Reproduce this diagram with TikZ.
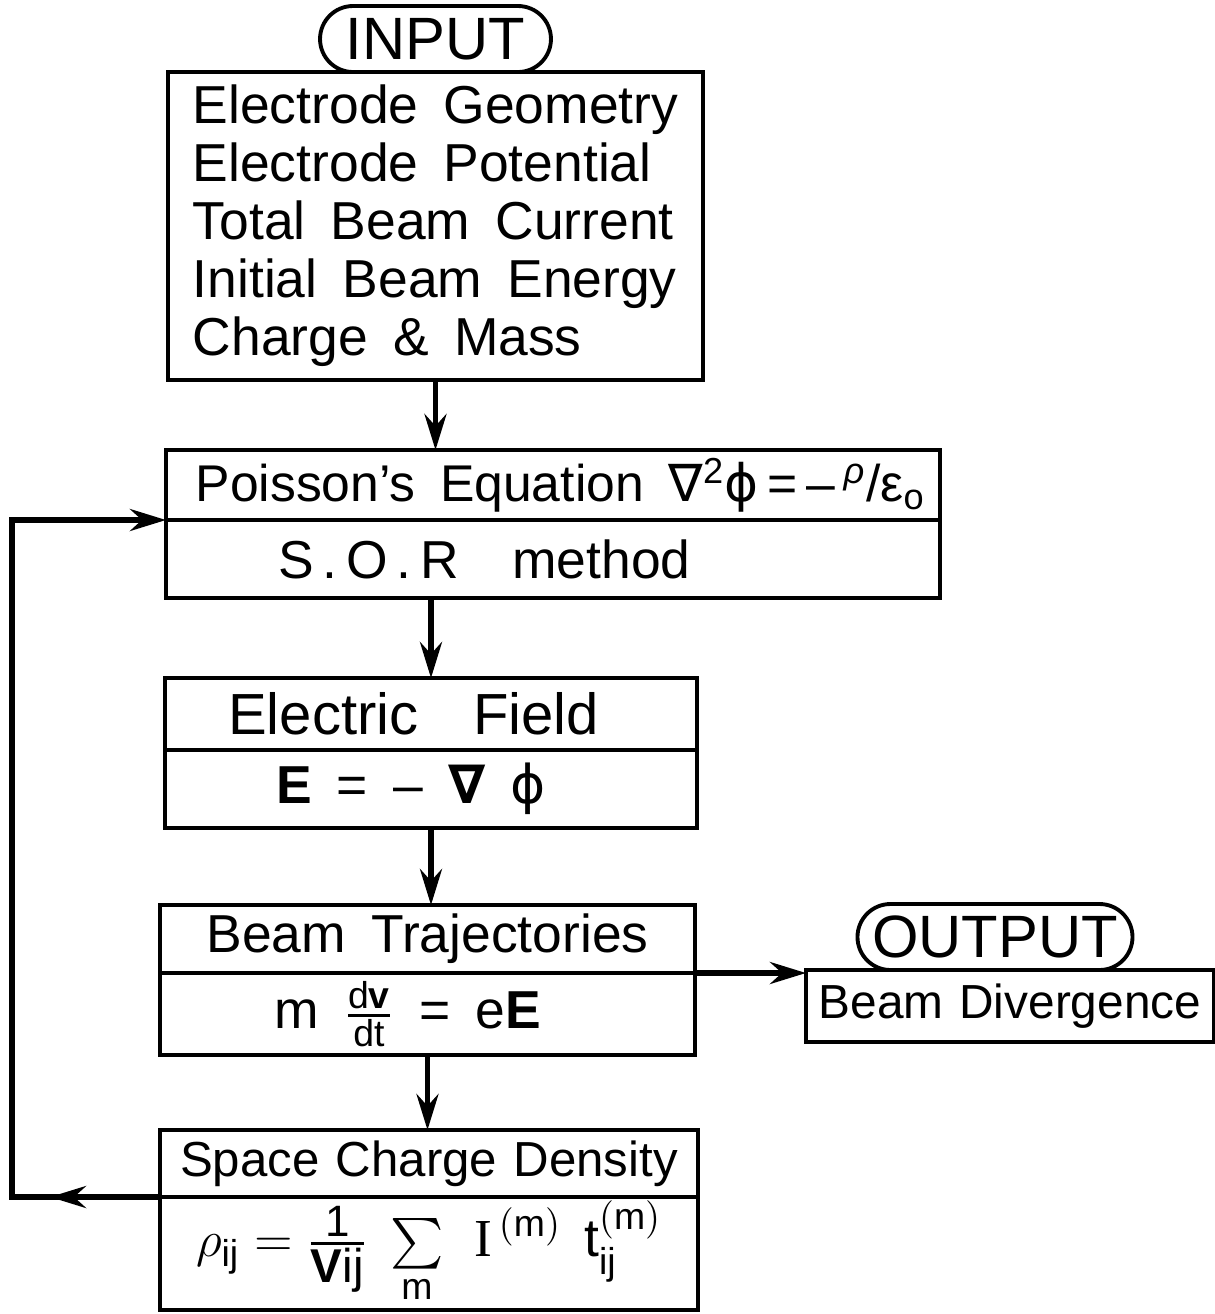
\documentclass[tikz,border=0pt]{standalone}
\usepackage{amsmath}
\usepackage{fontspec}
\setmainfont{Liberation Sans}[WordSpace=1.7]
\newfontfamily\gsym{DejaVu Sans}
\newfontfamily\serifI{Liberation Serif}
\usepackage{tikz}
\usetikzlibrary{
  arrows.meta, positioning, calc, shapes.misc, decorations.markings
}

\begin{document}
\begin{tikzpicture}[x=0.1mm, y=-0.1mm, line width=1.1pt,
  font=\fontsize{15.2}{16.5}\selectfont,
  box/.style={draw, rectangle, outer sep=0pt, inner sep=2pt, align=center},
  pill/.style={draw, rounded rectangle, outer sep=0pt, inner sep=2pt,
    minimum height=6.6mm, font=\fontsize{17}{18}\selectfont},
  flow/.style={line width=1.5pt, -{Stealth[length=3.6mm, width=2.2mm, inset=1.2mm]}},
  fb/.style={line width=1.5pt, -{Stealth[length=3.6mm, width=2.2mm, inset=1.2mm]},
    decoration={markings, mark=at position 11mm with
      {\arrow{Stealth[length=3.6mm, width=2.2mm, inset=1.2mm]}}},
    postaction={decorate}},
]
\useasboundingbox (0,0) rectangle (1215,1314);

% input
\node[box, minimum width=53.5mm, minimum height=30.8mm, align=left] (inp) at (435.5,226)
  {Electrode Geometry\\ Electrode Potential\\ Total Beam Current\\
   Initial Beam Energy\\ Charge \& Mass};
\node[pill, minimum width=24.5mm, above=0pt of inp] (inpill) {INPUT};

% poisson solver
\node[box, minimum width=77.4mm, minimum height=7mm,
  font=\fontsize{14.7}{16}\selectfont] (poiss) at (553,485)
  {\hspace*{1.5mm}Poisson's Equation {\gsym ∇}\textsuperscript{2}{\gsym ϕ}\,=\,–\,\textsuperscript{\itshape ρ}/ε\textsubscript{o}};
\node[box, below=0pt of poiss, minimum height=7.8mm, text width=76mm, align=left] (sor)
  {\hspace*{10.5mm}S\,.\,O\,.\,R\quad method};

% field
\node[box, minimum width=53.2mm, minimum height=7.2mm,
  font=\fontsize{16.5}{18}\selectfont] (fld) at (431,714) {\hspace*{-3.5mm}Electric\ \ Field};
\node[box, below=0pt of fld, minimum width=53.2mm, minimum height=7.8mm] (fldm)
  {\hspace*{-4mm}\textbf{E} = – {\gsym\bfseries ∇} {\gsym ϕ}};

% trajectories
\node[box, minimum width=53.5mm, minimum height=6.8mm] (traj) at (427.5,939) {Beam Trajectories};
\node[box, below=0pt of traj, minimum width=53.5mm, minimum height=8.2mm] (trajm)
  {\hspace*{-4mm}m $\genfrac{}{}{0.8pt}{}{\text{d\textbf{v}}}{\text{dt}}$ = e\textbf{E}};

% space charge
\node[box, minimum width=53.8mm, minimum height=6.7mm,
  font=\fontsize{14}{16}\selectfont, text width=52mm] (sc) at (429,1163.5) {Space Charge Density};
\node[box, below=0pt of sc, minimum width=53.8mm, minimum height=11.3mm,
  text height=4.2mm, text depth=3.6mm] (scm)
  {$\rho_{\text{ij}} = \genfrac{}{}{0.8pt}{1}{\text{\fontsize{12.5}{13}\selectfont 1}}%
     {\text{\fontsize{13.5}{14}\selectfont\textbf{V}ij}}\;
   \sum\limits_{\text{m}}\;\, \text{\serifI I}^{\,(\text{m})}\;\, \text{t}_{\text{ij}}^{(\text{m})}$};

% output
\node[box, minimum width=40.4mm, minimum height=7.2mm, text width=39.4mm,
  font=\fontsize{13.6}{16}\selectfont] (div) at (1010,1006) {Beam Divergence};
\node[pill, minimum width=27mm, above=0pt of div, xshift=-1.5mm] (outpill) {OUTPUT};

% connectors
\coordinate (lft) at (12,0);
\draw[flow] (inp.south) -- (inp.south |- poiss.north);
\draw[flow] (sor.south -| fld.north) -- (fld.north);
\draw[flow] (fldm.south) -- (fldm.south |- traj.north);
\draw[flow] (trajm.south) -- (trajm.south |- sc.north);
\draw[flow] (trajm.north east) -- (trajm.north east -| div.west);
\draw[fb] (scm.north west) -- (scm.north west -| lft) -- (lft |- sor.north west) -- (sor.north west);
\end{tikzpicture}
\end{document}
